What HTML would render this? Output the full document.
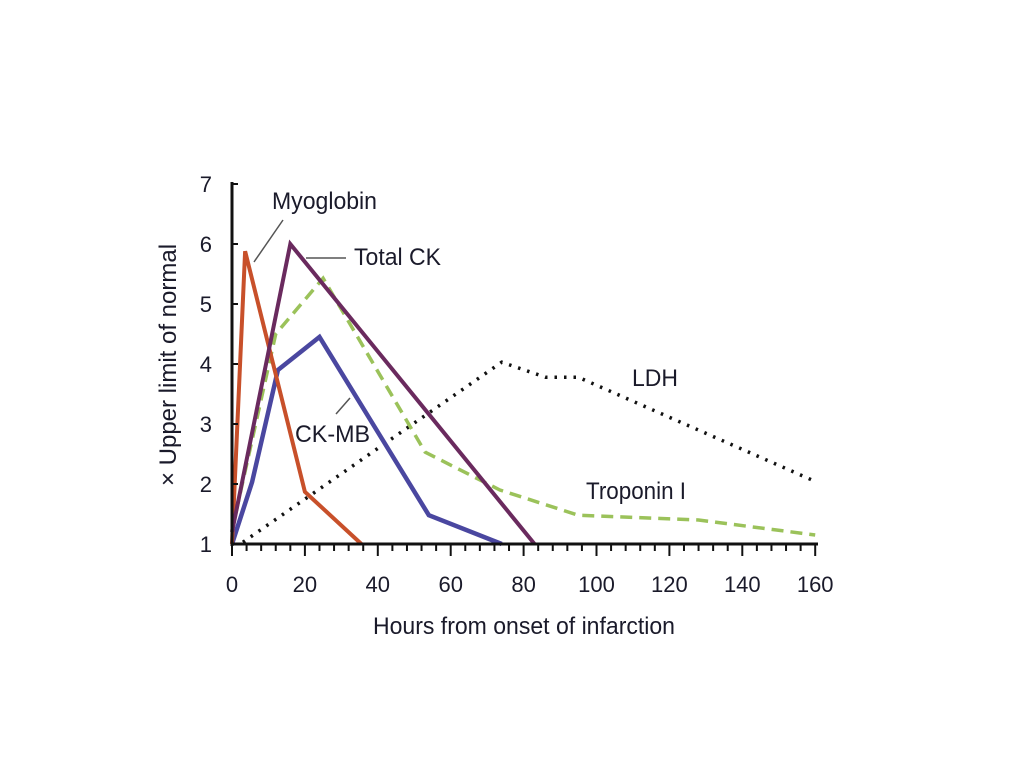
<!DOCTYPE html>
<html><head><meta charset="utf-8"><style>
body{margin:0;background:#fff;width:1024px;height:768px;overflow:hidden}
svg text{font-family:"Liberation Sans",sans-serif;fill:#1a1a2a}
</style></head><body>
<svg id="chart" width="1024" height="768" viewBox="0 0 1024 768"></svg>
<script>
const xTicks=[0,20,40,60,80,100,120,140,160];
const yTicks=[1,2,3,4,5,6,7];
const myoX=[0,3.6,20,35.5];
const myoY=[1,5.88,1.87,1];
const tckX=[0,16,83];
const tckY=[1.2,6,1];
const ckmbX=[0,5.5,12.6,24,54,74];
const ckmbY=[1,2.03,3.9,4.45,1.48,1];
const tropX=[0,12,25,53,73.5,95,128,160];
const tropY=[1.23,4.5,5.43,2.53,1.9,1.48,1.4,1.15];
const ldhX=[3,74,86,95,159];
const ldhY=[1.03,4.03,3.78,3.78,2.07];
const X=h=>232+h*3.645;
const Y=v=>544-(v-1)*60;
const svg=document.getElementById('chart');
const NS='http://www.w3.org/2000/svg';
function mk(tag,attrs,name){const e=document.createElementNS(NS,tag);for(const k in attrs)e.setAttribute(k,attrs[k]);


svg.appendChild(e);return e;}
function line(xs,ys,color,w,dash,name){const pts=xs.map((x,i)=>X(x)+','+Y(ys[i])).join(' ');
const a={points:pts,fill:'none',stroke:color,'stroke-width':w,'stroke-linejoin':'miter'};if(dash)a['stroke-dasharray']=dash;
return mk('polyline',a,name);}
line(ldhX,ldhY,'#111',3.5,'2.5 7','ldh-line');
line(tropX,tropY,'#9bc25a',3.5,'12 7','troponin-line');
line(ckmbX,ckmbY,'#4a47a0',4.5,null,'ckmb-line');
line(myoX,myoY,'#c8502a',4,null,'myoglobin-line');
line(tckX,tckY,'#6a2a5e',4,null,'total-ck-line');
mk('line',{x1:232,y1:182,x2:232,y2:546,stroke:'#111','stroke-width':3},'y-axis');
mk('line',{x1:231,y1:544,x2:818,y2:544,stroke:'#111','stroke-width':3},'x-axis');
for(let h=0;h<=160;h+=4){mk('line',{x1:X(h),y1:544,x2:X(h),y2:h%20==0?556:551,stroke:'#111','stroke-width':2},'x-tick');}
xTicks.forEach(t=>{const e=mk('text',{x:X(t),y:592,'font-size':22,'text-anchor':'middle'},'x-tick-label');e.textContent=t;});
yTicks.forEach(t=>{mk('line',{x1:232,y1:Y(t),x2:238,y2:Y(t),stroke:'#111','stroke-width':2},'y-tick');
const e=mk('text',{x:212,y:Y(t)+8,'font-size':22,'text-anchor':'end'},'y-tick-label');e.textContent=t;});
let t=mk('text',{x:373,y:634,'font-size':24,textLength:302,lengthAdjust:'spacingAndGlyphs'},'x-axis-title');t.textContent='Hours from onset of infarction';
t=mk('text',{x:0,y:0,'font-size':24,'text-anchor':'middle',transform:'translate(176,365) rotate(-90)'},'y-axis-title');t.textContent='× Upper limit of normal';
const labs=[['Myoglobin',272,209,105,'myoglobin-label'],['Total CK',354,265,87,'total-ck-label'],['CK-MB',295,442,75,'ckmb-label'],['LDH',632,386,46,'ldh-label'],['Troponin I',586,499,100,'troponin-label']];
labs.forEach(l=>{const e=mk('text',{x:l[1],y:l[2],'font-size':24,textLength:l[3],lengthAdjust:'spacingAndGlyphs'},l[4]);e.textContent=l[0];});
mk('line',{x1:254,y1:262,x2:283,y2:220,stroke:'#555','stroke-width':1.5},'myoglobin-leader');
mk('line',{x1:306,y1:258,x2:346,y2:258,stroke:'#555','stroke-width':1.5},'total-ck-leader');
mk('line',{x1:336,y1:414,x2:350,y2:398,stroke:'#555','stroke-width':1.5},'ckmb-leader');
</script>
</body></html>
